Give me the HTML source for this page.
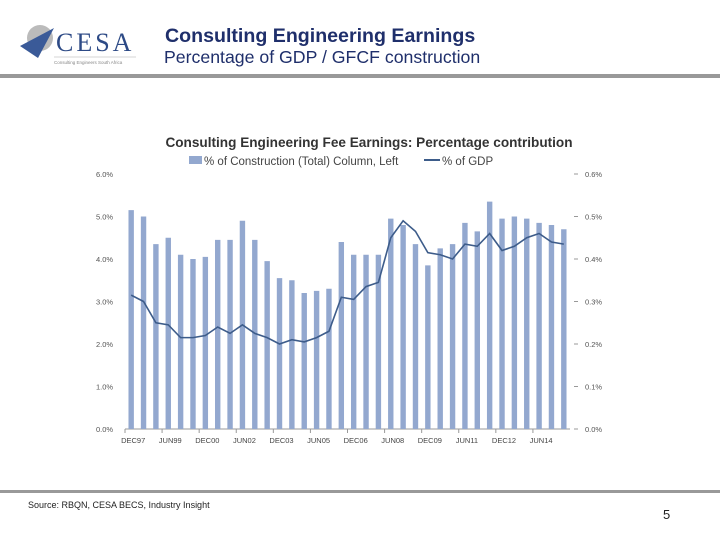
<!DOCTYPE html>
<html><head><meta charset="utf-8"><style>
body{margin:0;width:720px;height:540px;background:#fff;font-family:"Liberation Sans",sans-serif;position:relative;overflow:hidden}
.abs{position:absolute}
</style></head><body>
<div class="abs" style="left:18px;top:20px;width:120px;height:48px">
<svg width="120" height="48"><circle cx="22" cy="18" r="13" fill="#bbb"/><polygon points="2,26 36,8 20,38" fill="#3a5a98"/>
<text x="38" y="31" font-family="Liberation Serif" font-size="26" fill="#2d4a86" letter-spacing="3">CESA</text>
<line x1="36" y1="37" x2="118" y2="37" stroke="#aaa" stroke-width="0.5"/>
<text x="36" y="44" font-size="4.5" fill="#888">Consulting Engineers South Africa</text></svg></div>
<div class="abs" style="left:165px;top:25px;font-size:19.6px;font-weight:bold;color:#1f2f6b">Consulting Engineering Earnings</div>
<div class="abs" style="left:164px;top:47px;font-size:17.7px;color:#1f2f6b">Percentage of GDP / GFCF construction</div>
<div class="abs" style="left:0;top:74px;width:720px;height:4px;background:#999"></div>
<svg class="abs" style="left:0;top:0" width="720" height="540" id="chart">
<text x="369" y="147" text-anchor="middle" font-size="13.6" font-weight="bold" fill="#333">Consulting Engineering Fee Earnings: Percentage contribution</text>
<rect x="189" y="156" width="13" height="8" fill="#93a8cf"/>
<text x="204" y="165" font-size="11.5" fill="#444">% of Construction (Total) Column, Left</text>
<line x1="424" y1="160" x2="440" y2="160" stroke="#3d5c8a" stroke-width="2"/>
<text x="442" y="165" font-size="11.5" fill="#444">% of GDP</text>
<g id="g"></g>
</svg>
<div class="abs" style="left:0;top:490px;width:720px;height:3px;background:#999"></div>
<div class="abs" style="left:28px;top:500px;font-size:9px;color:#222">Source: RBQN, CESA BECS, Industry Insight</div>
<div class="abs" style="left:663px;top:507px;font-size:13px;color:#222">5</div>
<script>
const barValues=[5.15,5.0,4.35,4.5,4.1,4.0,4.05,4.45,4.45,4.9,4.45,3.95,3.55,3.5,3.2,3.25,3.3,4.4,4.1,4.1,4.1,4.95,4.8,4.35,3.85,4.25,4.35,4.85,4.65,5.35,4.95,5.0,4.95,4.85,4.8,4.7];
const gdpValues=[0.315,0.30,0.25,0.245,0.215,0.215,0.22,0.24,0.225,0.245,0.225,0.215,0.20,0.21,0.205,0.215,0.23,0.31,0.305,0.335,0.345,0.45,0.49,0.465,0.415,0.41,0.40,0.435,0.43,0.46,0.42,0.43,0.45,0.46,0.44,0.435];
const xLabels=["DEC97","JUN99","DEC00","JUN02","DEC03","JUN05","DEC06","JUN08","DEC09","JUN11","DEC12","JUN14"];
const leftTicks=["0.0%","1.0%","2.0%","3.0%","4.0%","5.0%","6.0%"];
const rightTicks=["0.0%","0.1%","0.2%","0.3%","0.4%","0.5%","0.6%"];
const NS="http://www.w3.org/2000/svg",g=document.getElementById('g');
const x0=125,x1=570,yB=429,yT=174,n=barValues.length,step=(x1-x0)/n;
const yL=v=>yB-(v/6)*(yB-yT), yR=v=>yB-(v/0.6)*(yB-yT), xc=i=>x0+step*(i+0.5);
function mk(t,a){const e=document.createElementNS(NS,t);for(const k in a)e.setAttribute(k,a[k]);g.appendChild(e);return e;}
let ax=mk('line',{x1:x0,y1:yB,x2:x1,y2:yB,stroke:'#999'});


leftTicks.forEach((t,i)=>{const y=yB-i*(yB-yT)/6;
 const a=mk('text',{x:96,y:y+3,'font-size':7.5,fill:'#555'});a.textContent=t;
 
 
 mk('line',{x1:x1+4,y1:y,x2:x1+8,y2:y,stroke:'#999'});
 const b=mk('text',{x:585,y:y+3,'font-size':7.5,fill:'#555'});b.textContent=rightTicks[i];
 
 });
barValues.forEach((v,i)=>{const r=mk('rect',{x:xc(i)-2.7,y:yL(v),width:5.4,height:yB-yL(v),fill:'#93a8cf'});
 
 
 if(i%3==0){mk('line',{x1:x0+step*i,y1:yB,x2:x0+step*i,y2:yB+4,stroke:'#999'});}});
xLabels.forEach((t,j)=>{const a=mk('text',{x:xc(j*3)+2,y:yB+14,'font-size':7.5,fill:'#444','text-anchor':'middle'});a.textContent=t;
 
 });
const p=mk('polyline',{points:gdpValues.map((v,i)=>xc(i)+','+yR(v)).join(' '),fill:'none',stroke:'#3d5c8a','stroke-width':1.6});


</script>
</body></html>
